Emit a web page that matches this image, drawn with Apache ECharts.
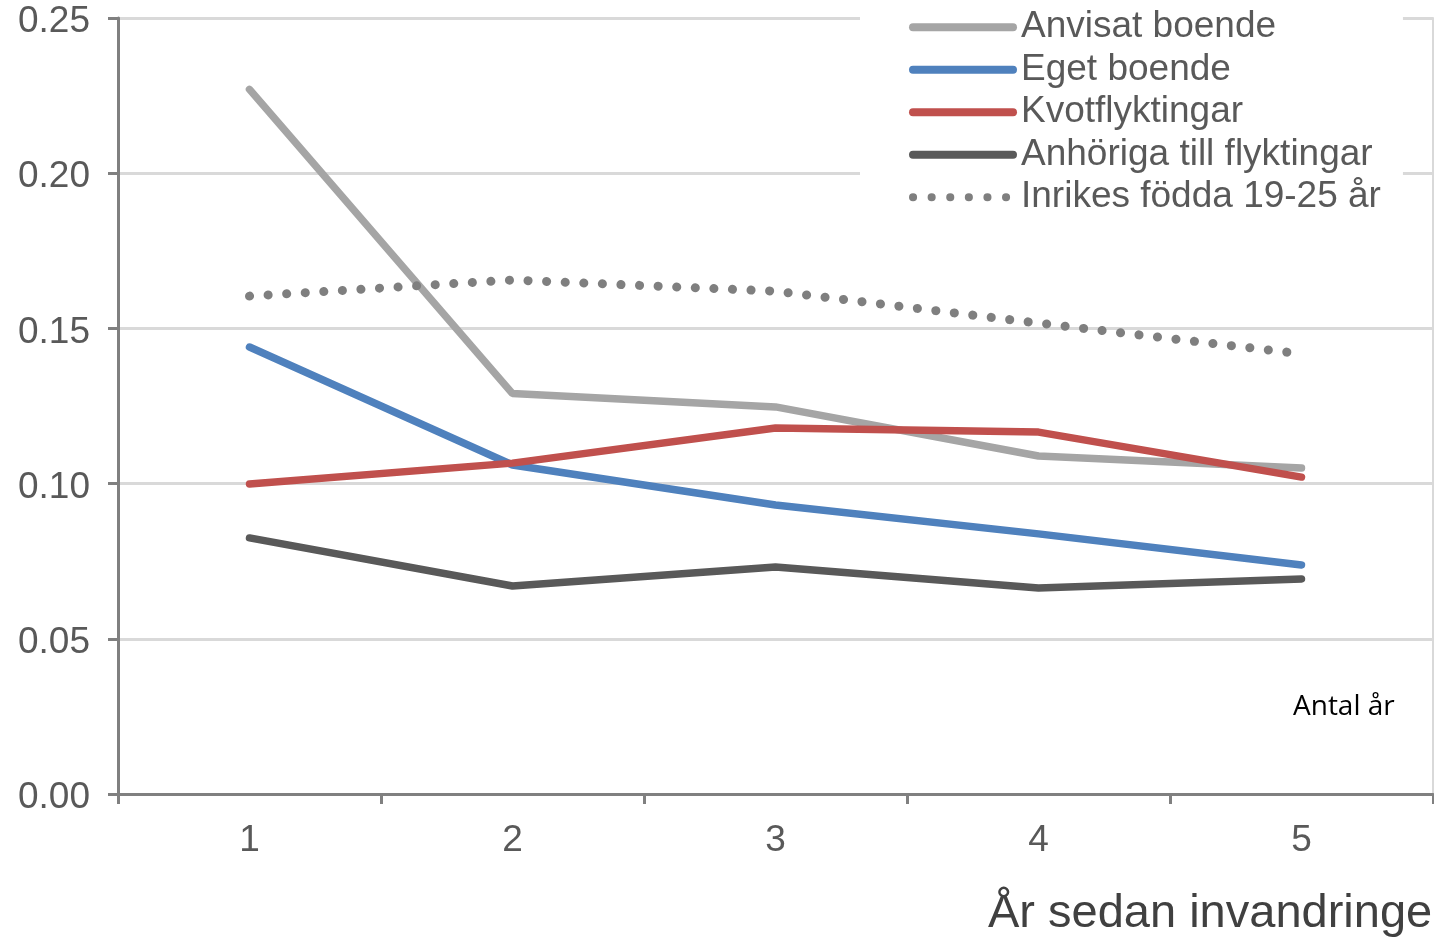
<!DOCTYPE html>
<html>
<head>
<meta charset="utf-8">
<script src="https://cdn.jsdelivr.net/npm/echarts@6/dist/echarts.min.js"></script>
<style>html,body{margin:0;padding:0;background:#fff}#c{width:1434px;height:938px}</style>
</head>
<body>
<div id="c"></div>
<script>
const categories = ['1', '2', '3', '4', '5'];
const anvisat = [0.227, 0.129, 0.1247, 0.1089, 0.105];
const eget = [0.144, 0.106, 0.0931, 0.0838, 0.0738];
const kvot = [0.0999, 0.1066, 0.1179, 0.1166, 0.1021];
const anhoriga = [0.0825, 0.067, 0.0731, 0.0664, 0.0693];
const inrikes = [0.1604, 0.1656, 0.162, 0.1517, 0.1418];
const seriesNames = ['Anvisat boende', 'Eget boende', 'Kvotflyktingar', 'Anhöriga till flyktingar', 'Inrikes födda 19-25 år'];

const chart = echarts.init(document.getElementById('c'), null, {renderer: 'canvas'});
const axisColor = '#808080';
const font = 'Liberation Sans, Arial, sans-serif';
function lineSeries(name, data, color, extra) {
  return Object.assign({
    name: name, type: 'line', data: data, symbol: 'none', showSymbol: false,
    lineStyle: {color: color, width: 7.5, cap: 'round'}, itemStyle: {color: color},
    z: 3
  }, extra || {});
}
chart.setOption({
  animation: false,
  backgroundColor: '#fff',
  grid: {left: 118, right: 1, top: 18, bottom: 144},
  title: [
    {text: 'År sedan invandringe', left: 983, top: 886,
     textStyle: {fontFamily: font, fontSize: 47, fontWeight: 'normal', color: '#404040'}},
    {text: 'Antal år', left: 1288, top: 688,
     textStyle: {fontFamily: 'Open Sans, Lato, sans-serif', fontSize: 28, fontWeight: 'normal', color: '#000'}}
  ],
  legend: {
    orient: 'vertical', left: 860, top: 0,
    padding: [7, 22, 4, 49],
    backgroundColor: '#fff',
    itemWidth: 100, itemHeight: 8, itemGap: 2,
    lineStyle: {width: 8, cap: 'round'},
    itemStyle: {opacity: 0},
    textStyle: {fontFamily: font, fontSize: 37, color: '#595959', lineHeight: 40.5, padding: [0, 0, 0, 3]},
    data: seriesNames
  },
  xAxis: {
    type: 'category', data: categories, boundaryGap: true,
    axisLine: {lineStyle: {color: axisColor, width: 3}},
    axisTick: {show: true, length: 10, lineStyle: {color: axisColor, width: 3}},
    axisLabel: {fontFamily: font, fontSize: 37, color: '#595959', margin: 28},
    splitLine: {show: false}
  },
  yAxis: [{
    type: 'value', min: 0, max: 0.25, interval: 0.05,
    axisLine: {show: true, lineStyle: {color: axisColor, width: 3}},
    axisTick: {show: true, length: 10, lineStyle: {color: axisColor, width: 3}},
    axisLabel: {margin: 28,
      formatter: v => '{a|' + v.toFixed(2) + '}',
      rich: {a: {fontFamily: font, fontSize: 37, color: '#595959', padding: [8, 0, 0, 0]}}},
    splitLine: {show: true, lineStyle: {color: '#d9d9d9', width: 3}}
  }, {
    type: 'value', min: 0, max: 0.25, interval: 0.05, position: 'right',
    axisLine: {show: true, lineStyle: {color: '#d9d9d9', width: 2}},
    axisTick: {show: false}, axisLabel: {show: false}, splitLine: {show: false}
  }],
  series: [
    lineSeries(seriesNames[0], anvisat, '#a5a5a5'),
    lineSeries(seriesNames[1], eget, '#4f81bd'),
    lineSeries(seriesNames[2], kvot, '#c0504d'),
    lineSeries(seriesNames[3], anhoriga, '#595959'),
    lineSeries(seriesNames[4], inrikes, '#7f7f7f', {
      lineStyle: {color: '#7f7f7f', width: 9, cap: 'round', type: [0.1, 18.5]}
    })
  ]
});
</script>
</body>
</html>
